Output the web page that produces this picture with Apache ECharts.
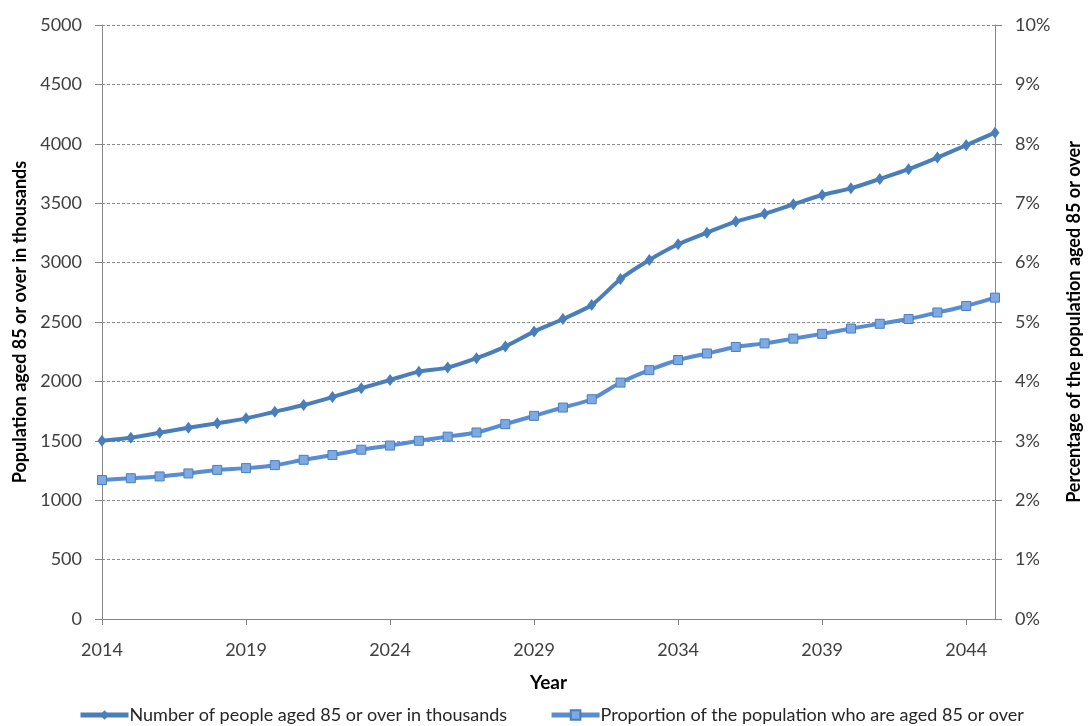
<!DOCTYPE html>
<html lang="en">

<head>
    <meta charset="UTF-8">
    <title>Population aged 85 or over</title>
    <script src="https://cdn.jsdelivr.net/npm/echarts@6/dist/echarts.min.js"></script>
    <style>
        body {
            margin: 0;
            background: #fff;
        }

        #main {
            width: 1091px;
            height: 726px;
        }
    </style>
</head>

<body>
    <div id="main"></div>
    <script>
        // years on the x axis
        var years = [];
        for (var y = 2014; y <= 2045; y++) years.push(String(y));

        // number of people aged 85+ (thousands)
        var peopleAged85 = [1500, 1526, 1568, 1610, 1647, 1689, 1745, 1801, 1868, 1942,
            2012, 2082, 2116, 2195, 2293, 2419, 2525, 2643, 2862, 3022,
            3154, 3252, 3345, 3411, 3491, 3569, 3625, 3704, 3786, 3884,
            3988, 4094];

        // share of the population aged 85+ (%)
        var shareAged85 = [2.34, 2.37, 2.40, 2.45, 2.51, 2.54, 2.59, 2.68, 2.76, 2.85,
            2.92, 3.00, 3.07, 3.14, 3.28, 3.42, 3.56, 3.70, 3.98, 4.19,
            4.36, 4.47, 4.58, 4.64, 4.72, 4.80, 4.89, 4.97, 5.05, 5.16,
            5.27, 5.41];

        var seriesNames = ['Number of people aged 85 or over in thousands',
            'Proportion of the population who are aged 85 or over'];

        var font = 'Lato';
        var labelColor = '#404040';
        var axisGrey = '#868686';

        // axis titles are bold black
        function titleStyle(size) {
            return { fontFamily: font, fontWeight: 'bold', fontSize: size, color: '#000' };
        }

        var myChart = echarts.init(document.getElementById('main'));

        var option = {
            animation: false,
            textStyle: { fontFamily: font },
            grid: {
                left: 102,
                right: 91,
                top: 25,
                bottom: 107
            },
            legend: {
                bottom: -3,
                left: 73,
                itemWidth: 48,
                itemHeight: 12,
                itemGap: 42,
                textStyle: { fontFamily: font, fontSize: 18, color: '#262626', padding: [0, 0, 0, -4] },
                data: [
                    { name: seriesNames[0], lineStyle: { width: 5 } },
                    { name: seriesNames[1], lineStyle: { width: 5 } }
                ]
            },
            xAxis: {
                type: 'category',
                data: years,
                boundaryGap: false,
                name: 'Year',
                nameLocation: 'middle',
                nameGap: 54,
                nameTextStyle: titleStyle(19),
                axisLine: { lineStyle: { color: axisGrey, width: 1 } },
                axisTick: { interval: 4, length: 6, lineStyle: { color: axisGrey } },
                axisLabel: { interval: 4, margin: 22, fontSize: 18, color: labelColor }
            },
            yAxis: [{
                type: 'value',
                min: 0,
                max: 5000,
                interval: 500,
                name: 'Population aged 85 or over in thousands',
                nameLocation: 'middle',
                nameGap: 71,
                nameTextStyle: titleStyle(18),
                axisLine: { show: true, lineStyle: { color: axisGrey, width: 1 } },
                axisTick: { show: true, length: 7, lineStyle: { color: axisGrey } },
                axisLabel: {
                    margin: 20, fontSize: 18, color: labelColor,
                    formatter: function (v) { return String(v); }
                },
                splitLine: { lineStyle: { color: '#8c8c8c', type: [3, 2], width: 1 } }
            }, {
                type: 'value',
                min: 0,
                max: 10,
                interval: 1,
                name: 'Percentage of the population aged 85 or over',
                nameLocation: 'middle',
                nameGap: 70,
                nameRotate: 90,
                nameTextStyle: titleStyle(18),
                axisLine: { show: true, lineStyle: { color: axisGrey, width: 1 } },
                axisTick: { show: true, length: 7, lineStyle: { color: axisGrey } },
                axisLabel: { margin: 20, fontSize: 18, color: labelColor, formatter: '{value}%' },
                splitLine: { show: false }
            }],
            series: [{
                name: seriesNames[0],
                type: 'line',
                yAxisIndex: 0,
                data: peopleAged85,
                smooth: 0.25,
                symbol: 'diamond',
                symbolSize: [9, 12],
                lineStyle: { color: '#4A7EBB', width: 4 },
                itemStyle: { color: '#4A7EBB' }
            }, {
                name: seriesNames[1],
                type: 'line',
                yAxisIndex: 1,
                data: shareAged85,
                smooth: 0.25,
                symbol: 'rect',
                symbolSize: 9,
                lineStyle: { color: '#5A8CD2', width: 4 },
                itemStyle: { color: '#7FA9E3', borderColor: '#4A7EBB', borderWidth: 1 }
            }]
        };

        myChart.setOption(option);
    </script>
</body>

</html>
